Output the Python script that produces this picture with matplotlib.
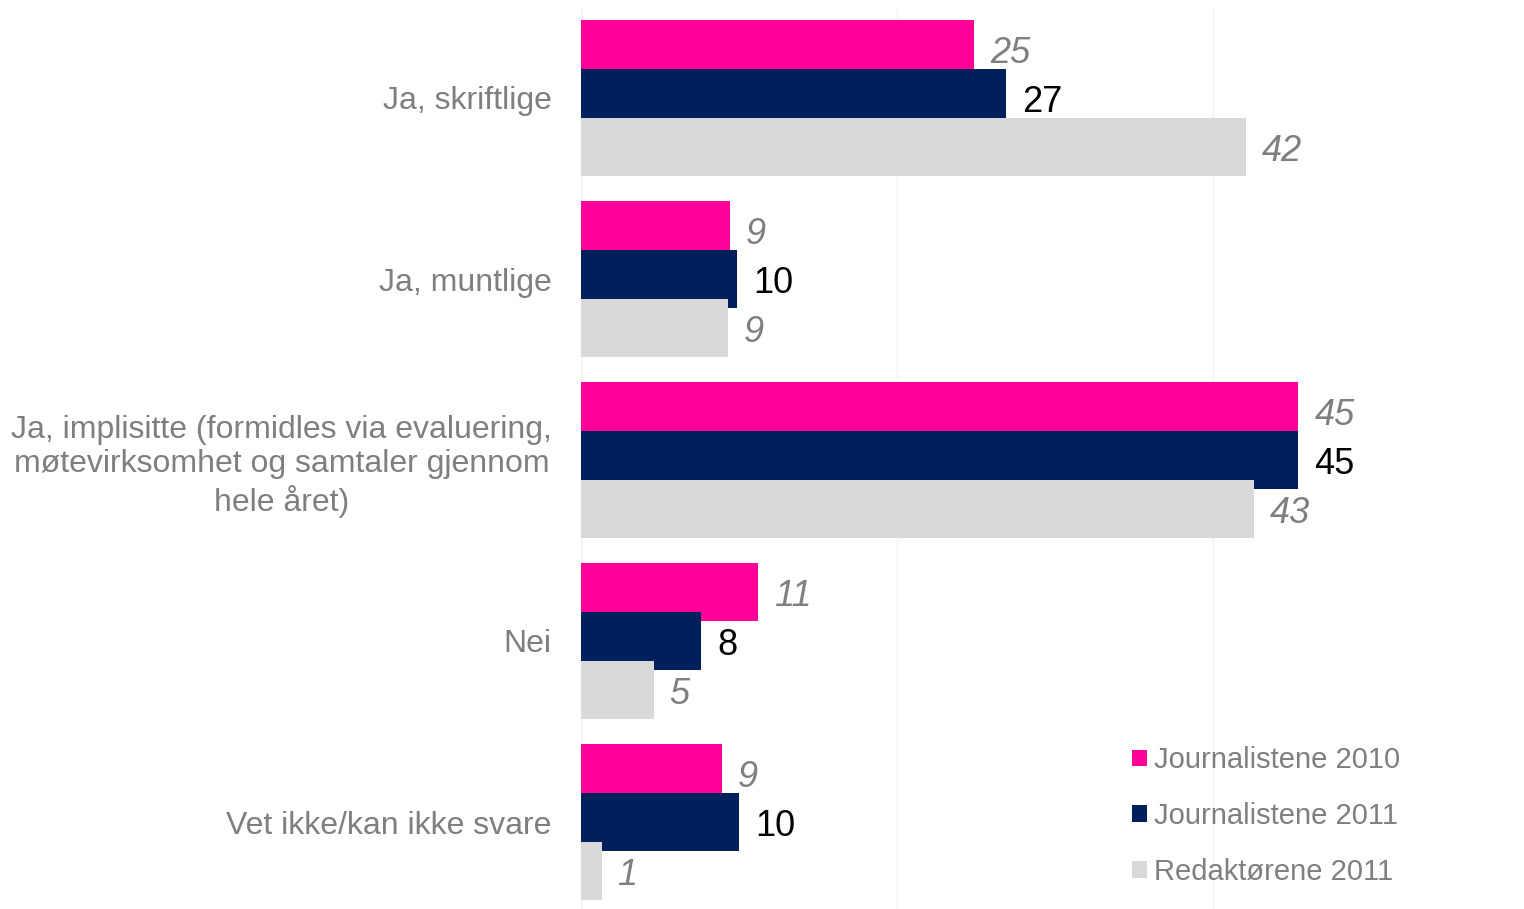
import matplotlib.pyplot as plt
from matplotlib.patches import Patch

plt.rcParams['font.family'] = ['Liberation Sans', 'DejaVu Sans']

categories = ['Ja, skriftlige',
              'Ja, muntlige',
              'Ja, implisitte (formidles via evaluering,\nmøtevirksomhet og samtaler gjennom\nhele året)',
              'Nei',
              'Vet ikke/kan ikke svare']
series_names = ['Journalistene 2010', 'Journalistene 2011', 'Redaktørene 2011']
# bar lengths; labels show them rounded
journ_2010 = [24.9, 9.4, 45.4, 11.2, 8.9]
journ_2011 = [26.9, 9.9, 45.4, 7.6, 10.0]
red_2011 = [42.1, 9.3, 42.6, 4.6, 1.3]

colors = ['#FF0099', '#00205B', '#D9D9D9']
label_style = [dict(color='#7F7F7F', style='italic'),
               dict(color='black', style='normal'),
               dict(color='#7F7F7F', style='italic')]

fig = plt.figure(figsize=(15.24, 9.09), dpi=100)
ax = fig.add_axes([581 / 1524, -3.5 / 909, 948 / 1524, 905 / 909])

offsets = [-0.271, 0.0, 0.271]
bar_h = 0.32
ypos = list(range(len(categories)))

for k, vals in enumerate([journ_2010, journ_2011, red_2011]):
    y = [p + offsets[k] for p in ypos]
    ax.barh(y, vals, height=bar_h, color=colors[k], zorder=2 + k)
    for yy, v in zip(y, vals):
        ax.annotate(str(round(v)), (v, yy), xytext=(11.5, -3),
                    textcoords='offset points', va='center', ha='left',
                    fontsize=26, zorder=10, **label_style[k])

ax.set_ylim(len(categories) - 0.5, -0.5)
ax.set_xlim(0, 60)
ax.set_yticks(ypos)
ax.set_yticklabels(categories, fontsize=23, color='#7F7F7F',
                   multialignment='center')
ax.tick_params(axis='y', length=0, pad=21)
ax.set_xticks([0, 20, 40])
ax.tick_params(axis='x', length=0, labelbottom=False)
ax.grid(axis='x', color='#F2F2F2', linewidth=1, zorder=0)
ax.axvline(0, color='#E6E6E6', linewidth=1, zorder=1)
for s in ax.spines.values():
    s.set_visible(False)

handles = [Patch(facecolor=c, edgecolor='none') for c in colors]
leg = fig.legend(handles, series_names, loc='upper left',
                 bbox_to_anchor=(1106 / 1524, 1 - 720 / 909),
                 frameon=False, fontsize=21, handlelength=0.5,
                 handleheight=0.5, handletextpad=0.25, labelspacing=0.95)
for t in leg.get_texts():
    t.set_color('#7F7F7F')

fig.savefig('out.png', dpi=100)
